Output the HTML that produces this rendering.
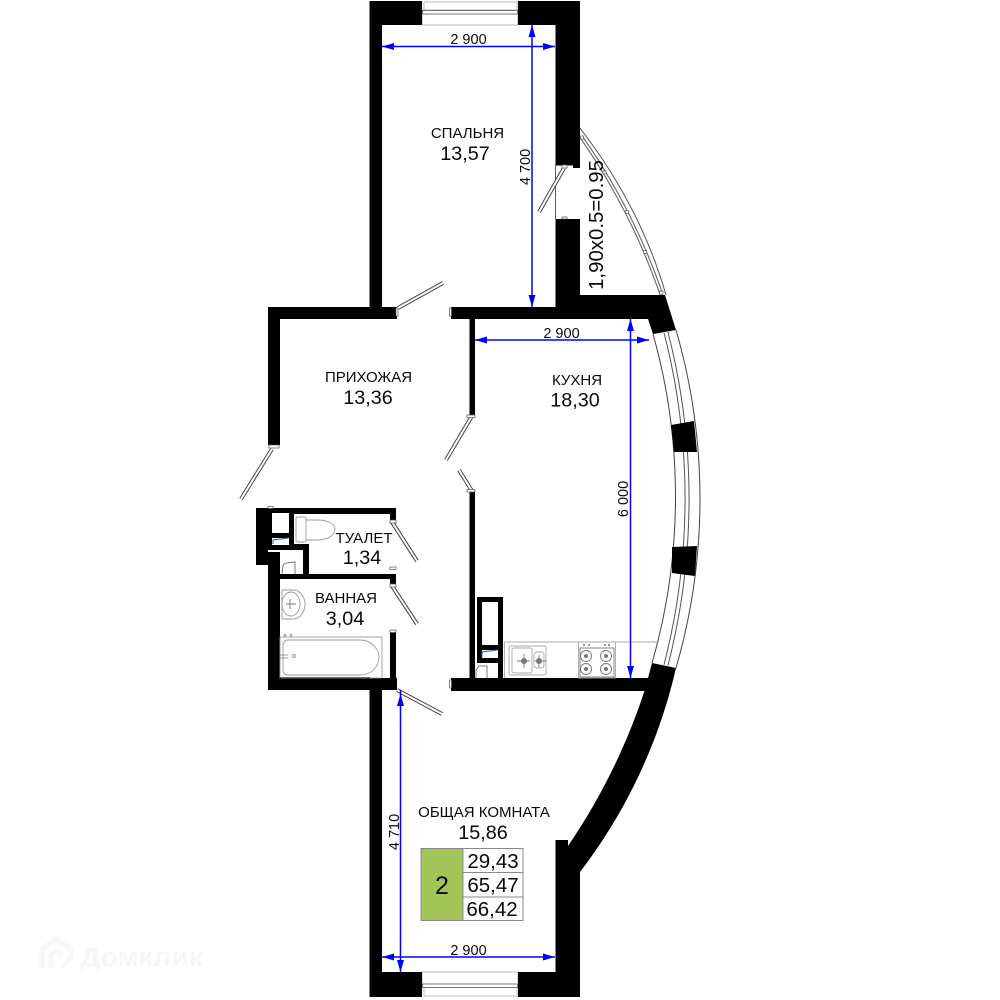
<!DOCTYPE html>
<html>
<head>
<meta charset="utf-8">
<style>
html,body{margin:0;padding:0;background:#fff;}
svg{display:block;}
text{font-family:"Liberation Sans",sans-serif;fill:#0a0a0a;text-anchor:middle;}
.l{font-size:15px;}
.n{font-size:19.8px;}
.d{font-size:14.5px;}
.c{font-size:20.5px;}
</style>
</head>
<body>
<svg width="1000" height="1000" viewBox="0 0 1000 1000" xmlns="http://www.w3.org/2000/svg">
<rect width="1000" height="1000" fill="#fff"/>

<!-- watermark -->
<g>
<path d="M42 968 V949 L56 939 L71 949 V957 L62 968 M51 968 V955 L56 951 L62 955" fill="none" stroke="#f7f7f7" stroke-width="5"/>
<text x="141.5" y="966" textLength="123" lengthAdjust="spacingAndGlyphs" style="font-size:25.5px;font-weight:bold;fill:#f6f6f6">Домклик</text>
</g>

<!-- windows top/bottom -->
<g fill="#fff" stroke="#aaa" stroke-width="0.8">
<rect x="424" y="2" width="93" height="9"/>
<rect x="422" y="10" width="96" height="15"/>
<rect x="422" y="972" width="96" height="13"/>
<rect x="424" y="985" width="93" height="11"/>
</g>
<g fill="#fff" stroke="#666" stroke-width="0.9">
<rect x="422.5" y="10.5" width="95" height="3.5"/>
<rect x="422.5" y="984" width="95" height="3.5"/>
</g>

<!-- kitchen bay window lines -->
<g fill="none">
<path d="M676 330 A607 607 0 0 1 676 668" stroke="#444" stroke-width="1"/>
<path d="M653 334 A600 600 0 0 1 652 663" stroke="#444" stroke-width="1"/>
<path d="M666 332.5 A667 667 0 0 1 666 665" stroke="#555" stroke-width="5"/>
<path d="M666 332.5 A667 667 0 0 1 666 665" stroke="#fff" stroke-width="3"/>
</g>

<!-- balcony rails -->
<g fill="none">
<path d="M579 127 Q640 205 666 295" stroke="#555" stroke-width="1"/>
<path d="M582 138 Q632 210 661 293" stroke="#666" stroke-width="3.8"/>
<path d="M582 138 Q632 210 661 293" stroke="#fff" stroke-width="1.6"/>
</g>
<g fill="#fff" stroke="#555" stroke-width="0.7">
<rect x="580.5" y="136" width="3" height="3"/>
<rect x="603" y="171" width="3" height="3"/>
<rect x="625.5" y="210.5" width="3" height="3"/>
<rect x="643.5" y="250.5" width="3" height="3"/>
<rect x="659.5" y="291" width="3.5" height="3.5"/>
</g>

<!-- walls -->
<g fill="#000">
<!-- bedroom -->
<rect x="369.5" y="1" width="52.5" height="24"/>
<rect x="369.5" y="1" width="12.5" height="318"/>
<path d="M518 1 H580 V168 H573 V165.5 H555.5 V25 H518 Z"/>
<!-- wall between bedroom and kitchen + balcony -->
<path d="M451 307 H555.5 V219 H580 V295 H665 L676 330 L653 334 L648 319 H451 Z"/>
<!-- hall -->
<rect x="268" y="307" width="129" height="12"/>
<rect x="268" y="307" width="12" height="138"/>
<!-- kitchen left wall -->
<rect x="469.5" y="319" width="5.5" height="96"/>
<rect x="469.5" y="492" width="5.5" height="187"/>
<!-- kitchen bottom + living wall -->
<path d="M451 678 H648 L652 663 L676 668 A530 530 0 0 1 580 872 V997 H518 V972 H555.5 V840 H568 V846 A620 620 0 0 0 644.5 691 H451 Z"/>
<!-- living left -->
<rect x="369.5" y="690" width="12.5" height="307"/>
<rect x="369.5" y="972" width="52.5" height="25"/>
<!-- bath bottom -->
<rect x="268" y="678" width="129" height="12"/>
<rect x="390" y="631" width="6" height="50"/>
<!-- left of bath -->
<rect x="268" y="550" width="12" height="140"/>
<!-- wc block -->
<path d="M256 508 H396 V522 H390 V514 H294 V544 H309 V574 H396 V585 H390 V579 H280 V574 H303 V550 H268 V565 H256 Z"/>
<!-- shaft interior dividers -->
<rect x="256" y="508" width="16" height="57"/>
<rect x="272" y="508" width="17" height="5"/>
<rect x="289" y="508" width="5" height="42"/>
<rect x="272" y="533" width="17" height="5"/>
<rect x="268" y="545" width="26" height="5"/>
<!-- piers -->
<path d="M671 425 L694 421 L697 452 L674 452 Z"/>
<path d="M672 547 L697 546 L695 576 L672 573 Z"/>
<!-- kitchen shaft -->
<rect x="477" y="597" width="26" height="66"/>
<rect x="498" y="663" width="5" height="16"/>
</g>

<!-- shaft whites -->
<g fill="#fff">
<rect x="272" y="513" width="17" height="20"/>
<rect x="272" y="538" width="17" height="7"/>
<rect x="268" y="550" width="12" height="2"/>
<rect x="482" y="602" width="16" height="43"/>
<rect x="482" y="650" width="16" height="8"/>
<rect x="475" y="663" width="23" height="15"/>
</g>
<path d="M273 544 V540 L288 538" stroke="#1a5fb0" stroke-width="1" fill="none"/>
<path d="M482 657 V652 L497 650" stroke="#1a5fb0" stroke-width="1" fill="none"/>
<path d="M282 574 L283 566 Q284 563 287 563 L295 562 V574" fill="none" stroke="#555" stroke-width="0.8"/>
<path d="M476 678 V670 L479 666 L487 666 V678" fill="none" stroke="#555" stroke-width="0.8"/>

<!-- balcony door -->
<path d="M555.5 165 V219" stroke="#333" stroke-width="0.8" fill="none"/>

<!-- doors -->
<g fill="none" stroke="#444" stroke-width="4">
<path d="M564 168 L539 212"/>
<path d="M398 308 L443 283"/>
<path d="M272 449 L241 499"/>
<path d="M472 416 L446 460"/>
<path d="M472 491 L459 470"/>
<path d="M392 522 L417 561"/>
<path d="M392 586 L417 624"/>
<path d="M397 690 L442 714"/>
</g>
<g fill="none" stroke="#fff" stroke-width="2">
<path d="M564 168 L539 212"/>
<path d="M398 308 L443 283"/>
<path d="M272 449 L241 499"/>
<path d="M472 416 L446 460"/>
<path d="M472 491 L459 470"/>
<path d="M392 522 L417 561"/>
<path d="M392 586 L417 624"/>
<path d="M397 690 L442 714"/>
</g>
<!-- hinge stubs -->
<g fill="#fff" stroke="#555" stroke-width="0.7">
<rect x="269" y="445" width="10" height="3"/>
<rect x="467" y="415" width="8" height="2.5"/>
<rect x="467" y="489.5" width="8" height="2.5"/>
<rect x="390" y="520" width="6" height="3"/>
<rect x="390" y="567" width="6" height="2.5"/>
<rect x="390" y="584" width="6" height="3"/>
<rect x="390" y="630" width="6" height="2.5"/>
<rect x="449.5" y="308" width="2" height="8"/>
<rect x="449.5" y="680" width="2" height="8"/>
<rect x="396" y="308" width="2" height="8"/>
<rect x="268" y="506.5" width="5" height="2"/>
<rect x="562" y="165" width="5" height="3"/>
<rect x="562" y="217" width="5" height="2"/>
</g>

<!-- toilet -->
<g fill="none" stroke="#999" stroke-width="0.9">
<rect x="296" y="517" width="10" height="25" rx="2"/>
<path d="M306 520 H318 C329 520 335 525 335 529 C335 534 329 540 318 540 H306"/>
</g>
<!-- wash basin -->
<g fill="none" stroke="#999" stroke-width="0.9">
<path d="M282 590 H293 C300 590 305 597 305 604 C305 612 300 619 293 619 H282 Z"/>
<ellipse cx="291" cy="604" rx="9" ry="12"/>
<path d="M286 604 H296 M290 599 V609" stroke="#777"/>
</g>
<!-- bath -->
<g fill="none" stroke="#999" stroke-width="0.9">
<rect x="280" y="637" width="102" height="41"/>
<path d="M288 640 H360 C372 640 379 650 379 657 C379 666 372 675 360 675 H288 C285 675 283 673 283 670 V645 C283 642 285 640 288 640 Z"/>
<circle cx="294" cy="656" r="1.5"/>
<path d="M280 655 H288 M280 658 H288"/>
<circle cx="285" cy="635" r="0.9"/><circle cx="291" cy="635" r="0.9"/>
</g>
<path d="M280 677.7 H370" stroke="#22348c" stroke-width="0.8"/>

<!-- kitchen counter -->
<g fill="none" stroke="#aaa" stroke-width="0.9">
<path d="M504 642 H659"/>
<path d="M504.5 642 V678"/>
<rect x="578.5" y="642" width="37" height="36"/>
<rect x="509" y="646" width="37" height="29" rx="2"/>
<rect x="512" y="648" width="20" height="25" rx="2"/>
<rect x="534" y="652" width="10" height="16" rx="3"/>
</g>
<g fill="none" stroke="#777" stroke-width="0.9">
<rect x="580" y="648" width="34" height="29"/>
<circle cx="586" cy="656" r="5.5"/><circle cx="606" cy="656" r="5.5"/>
<circle cx="586" cy="669" r="5.5"/><circle cx="606" cy="669" r="5.5"/>
<path d="M517 661 H530 M524 654 V668 M535 661 H546 M539 655 V667"/>
</g>
<g fill="#777">
<circle cx="586" cy="656" r="2"/><circle cx="606" cy="656" r="2"/>
<circle cx="586" cy="669" r="2"/><circle cx="606" cy="669" r="2"/>
<circle cx="584" cy="645" r="1"/><circle cx="589" cy="645" r="1"/>
<circle cx="605" cy="645" r="1"/><circle cx="609" cy="645" r="1"/>
<circle cx="524" cy="661" r="3"/><circle cx="539" cy="661" r="3"/>
</g>

<!-- dimension lines -->
<g stroke="#0000ff" stroke-width="1.5" fill="none">
<path d="M382 46.5 H555"/>
<path d="M532 25 V307"/>
<path d="M475 340 H649"/>
<path d="M630.5 319 V678"/>
<path d="M400.5 690 V972"/>
<path d="M382 957 H555"/>
</g>
<g fill="#0000ff">
<path d="M382 46.5 L394 43 V50 Z"/><path d="M555 46.5 L543 43 V50 Z"/>
<path d="M532 25 L528.5 37 H535.5 Z"/><path d="M532 307 L528.5 295 H535.5 Z"/>
<path d="M475 340 L487 336.5 V343.5 Z"/><path d="M649 340 L637 336.5 V343.5 Z"/>
<path d="M630.5 319 L627 331 H634 Z"/><path d="M630.5 678 L627 666 H634 Z"/>
<path d="M400.5 694 L397 706 H404 Z"/><path d="M400.5 972 L397 960 H404 Z"/>
<path d="M382 957 L394 953.5 V960.5 Z"/><path d="M555 957 L543 953.5 V960.5 Z"/>
</g>

<!-- dimension text -->
<text class="d" x="468.5" y="44">2 900</text>
<text class="d" x="561.5" y="338">2 900</text>
<text class="d" x="468.5" y="955">2 900</text>
<text class="d" transform="translate(530 167) rotate(-90)">4 700</text>
<text class="d" transform="translate(628 499) rotate(-90)">6 000</text>
<text class="d" transform="translate(399 832) rotate(-90)">4 710</text>
<text style="font-size:20.4px" transform="translate(603 225) rotate(-90)">1,90x0.5=0.95</text>

<!-- room labels -->
<text class="l" x="467.5" y="138">СПАЛЬНЯ</text>
<text class="n" x="465" y="160">13,57</text>
<text class="l" x="368.5" y="382">ПРИХОЖАЯ</text>
<text class="n" x="368" y="404">13,36</text>
<text class="l" x="577" y="385">КУХНЯ</text>
<text class="n" x="575" y="406.5">18,30</text>
<text class="l" x="364" y="543">ТУАЛЕТ</text>
<text class="n" x="362" y="564">1,34</text>
<text class="l" x="346" y="603">ВАННАЯ</text>
<text class="n" x="345" y="625">3,04</text>
<text class="l" x="484" y="817">ОБЩАЯ КОМНАТА</text>
<text class="n" x="483" y="839">15,86</text>

<!-- legend -->
<rect x="421" y="848.5" width="42" height="72" fill="#a2c557" stroke="#888" stroke-width="1"/>
<rect x="463" y="848.5" width="60" height="72" fill="#fff" stroke="#888" stroke-width="1"/>
<path d="M463 872.5 H523 M463 897 H523" stroke="#888" stroke-width="1"/>
<text style="font-size:25px" x="442" y="894">2</text>
<text class="c" x="493" y="868">29,43</text>
<text class="c" x="493" y="892">65,47</text>
<text class="c" x="492" y="916">66,42</text>
</svg>
</body>
</html>
